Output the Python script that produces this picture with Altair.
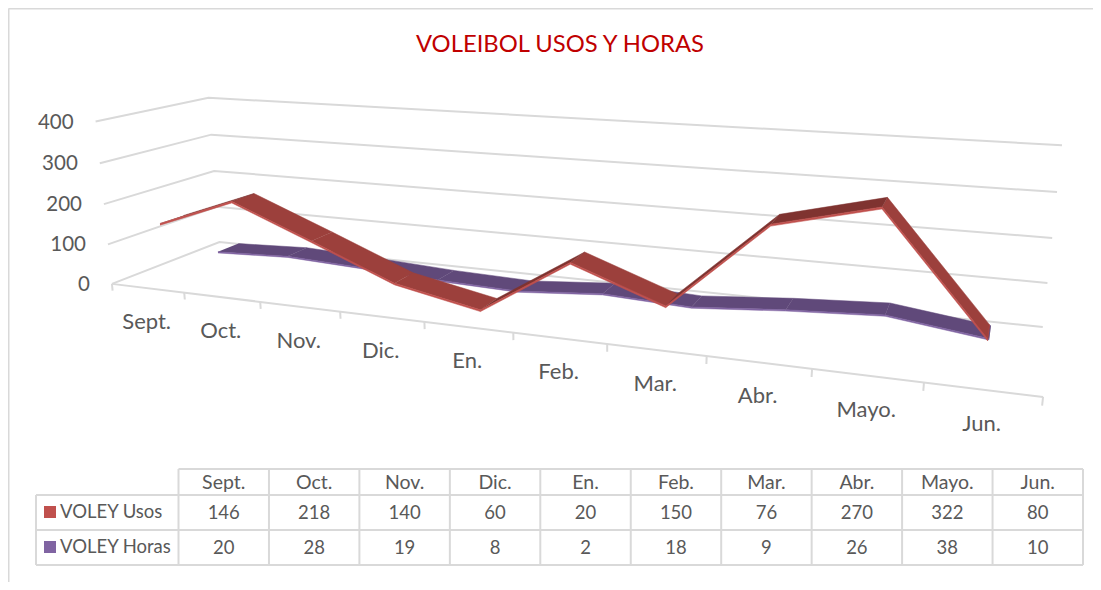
import numpy as np
import pandas as pd
import altair as alt

months = ["Sept.", "Oct.", "Nov.", "Dic.", "En.", "Feb.", "Mar.", "Abr.", "Mayo.", "Jun."]
usos = [146, 218, 140, 60, 20, 150, 76, 270, 322, 80]
horas = [20, 28, 19, 8, 2, 18, 9, 26, 38, 10]
y_ticks = [0, 100, 200, 300, 400]
series_names = ["VOLEY Usos", "VOLEY Horas"]
title_text = "VOLEIBOL USOS Y HORAS"

RED_TOP, RED_DARK, RED_FRONT, RED_CAP = "#9c403c", "#7f3330", "#c0504d", "#b2453f"
PUR_TOP, PUR_FRONT = "#60497a", "#8064a2"
GRID = "#d9d9d9"
TXT = "#595959"
FONT = "Lato"

W, H = 1085, 574
XS = alt.Scale(domain=[8, 8 + W], range=[0, W], nice=False, zero=False)
YS = alt.Scale(domain=[8, 8 + H], range=[0, H], nice=False, zero=False)

# perspective camera of the 3-D plot: (category, depth, value) -> page pixel, fitted on the box corners
calib = [
    ((0, 0, 0), (113, 284)), ((10, 0, 0), (1043, 397)), ((0, 1, 0), (218, 242)), ((10, 1, 0), (1043, 327)),
    ((0, 0, 400), (95, 122)), ((0, 1, 400), (209, 98)), ((10, 1, 400), (1062, 145)), ((0, 0, 200), (103, 203)),
    ((2, 0, 0), (261, 302)), ((5, 0, 0), (513, 333)), ((8, 0, 0), (812, 369)), ((10, 1, 200), (1052, 238)),
    ((0, 1, 200), (215, 171)),
]
A = []
for (u, d, v), (px, py) in calib:
    X = [u / 10, d, v / 400, 1]
    A.append(X + [0, 0, 0, 0] + [-px / 1000 * c for c in X])
    A.append([0, 0, 0, 0] + X + [-py / 1000 * c for c in X])
P = np.linalg.svd(np.array(A))[2][-1].reshape(3, 4)


def proj(u, d, v):
    h = P @ np.array([u / 10, d, v / 400, 1])
    return float(h[0] / h[2] * 1000), float(h[1] / h[2] * 1000)


def shape_df(polys):
    rows = []
    for i, pts in enumerate(polys):
        for j, (x, y) in enumerate(pts):
            rows.append({"x": x, "y": y, "g": i, "o": j})
    return pd.DataFrame(rows)


X_ = alt.X("x:Q", scale=XS, axis=None)
Y_ = alt.Y("y:Q", scale=YS, axis=None)


def filled(polys, color):
    return alt.Chart(shape_df(polys)).mark_line(color=color, fill=color, strokeWidth=0.5, fillOpacity=1).encode(
        x=X_, y=Y_, detail="g:N", order="o:Q")


def strokes(lines, color=GRID, width=2.0):
    return alt.Chart(shape_df(lines)).mark_line(color=color, strokeWidth=width).encode(
        x=X_, y=Y_, detail="g:N", order="o:Q")


# gridlines
lines = []
for t in y_ticks:
    lines.append([proj(0, 0, t), proj(0, 1, t), proj(10, 1, t)])
lines.append([proj(0, 0, 0), proj(10, 0, 0)])
for k in range(len(months) + 1):
    lines.append([proj(k, 0, 0), proj(k, 0, -17)])


def ribbon(vals, d0, d1, thick, top, dark, front, cap):
    tops, darks, fronts = [], [], []
    for i in range(len(vals) - 1):
        a, b = vals[i], vals[i + 1]
        u0, u1 = i + 0.5, i + 1.5
        quad = [proj(u0, d0, a), proj(u1, d0, b), proj(u1, d1, b), proj(u0, d1, a)]
        (darks if b > a and dark else tops).append(quad)
        fronts.append([proj(u0, d0, a), proj(u1, d0, b), proj(u1, d0, b - thick), proj(u0, d0, a - thick)])
    n = len(vals) - 0.5
    end = [proj(n, d0, vals[-1]), proj(n, d1, vals[-1]), proj(n, d1, vals[-1] - thick), proj(n, d0, vals[-1] - thick)]
    out = [filled(tops, top)]
    if darks:
        out.append(filled(darks, dark))
    out.append(filled(fronts, front))
    out.append(filled([end], cap))
    return out


layers = [strokes(lines)]
layers += ribbon(horas, 0.65, 0.86, 3, PUR_TOP, None, PUR_FRONT, PUR_TOP)
layers += ribbon(usos, 0.15, 0.36, 4, RED_TOP, RED_DARK, RED_FRONT, RED_CAP)


def texts(rows, size, align="center", color=TXT, baseline="middle"):
    return alt.Chart(pd.DataFrame(rows)).mark_text(
        font=FONT, fontSize=size, align=align, baseline=baseline, color=color
    ).encode(x=X_, y=Y_, text="t:N")


# axis labels
layers.append(texts([{"x": proj(0, 0, t)[0] - 22, "y": proj(0, 0, t)[1] + 1, "t": str(t)} for t in y_ticks], 20.5, "right"))
layers.append(texts([{"x": proj(i + 0.5, 0, 0)[0] - 1, "y": proj(i + 0.5, 0, 0)[1] + 34, "t": m}
                     for i, m in enumerate(months)], 22))
layers.append(texts([{"x": 560, "y": 45, "t": title_text}], 23.8, color="#c00000"))

# data table
left, col0, cw = 36, 178.5, 90.45
ytop, y1, y2, ybot = 469, 495, 530, 565
right = col0 + cw * len(months)
tl = [[(col0, ytop), (right, ytop)], [(left, y1), (right, y1)], [(left, y2), (right, y2)], [(left, ybot), (right, ybot)],
      [(left, y1), (left, ybot)]]
for k in range(len(months) + 1):
    tl.append([(col0 + k * cw, ytop), (col0 + k * cw, ybot)])
tl.append([(8.5, 8.5), (8.5, 582)])
tl.append([(8.5, 8.5), (1093, 8.5)])
layers.append(strokes(tl, width=2.0))

header, nums = [], []
for i, m in enumerate(months):
    cx = col0 + (i + 0.5) * cw
    header.append({"x": cx, "y": (ytop + y1) / 2 + 0.5, "t": m})
    nums.append({"x": cx, "y": (y1 + y2) / 2 + 0.5, "t": str(usos[i])})
    nums.append({"x": cx, "y": (y2 + ybot) / 2 + 0.5, "t": str(horas[i])})
layers.append(texts(header, 19.5))
layers.append(texts(nums, 18.5))
layers.append(texts([{"x": 60, "y": (y1 + y2) / 2 - 0.5, "t": series_names[0]},
                     {"x": 60, "y": (y2 + ybot) / 2 - 0.5, "t": series_names[1]}], 18.5, "left"))

for (cy, c) in [((y1 + y2) / 2 - 0.5, RED_FRONT), ((y2 + ybot) / 2 - 0.5, PUR_FRONT)]:
    layers.append(alt.Chart(pd.DataFrame([{"x": 44, "x2": 56, "y": cy - 6, "y2": cy + 6}])).mark_rect(color=c).encode(
        x=X_, x2="x2:Q", y=Y_, y2="y2:Q"))

chart = alt.layer(*layers).properties(
    width=W, height=H, padding=0, autosize=alt.AutoSizeParams(type="none"), background="white"
).configure_view(stroke=None)

chart.save("out.html", embed_options={"renderer": "svg", "actions": False})
